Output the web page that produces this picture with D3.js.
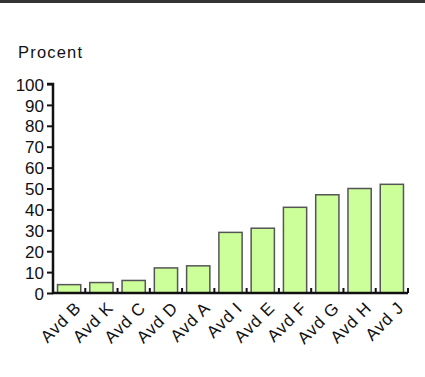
<!DOCTYPE html>
<html>
<head>
<meta charset="utf-8">
<script src="https://cdn.jsdelivr.net/npm/d3@7"></script>
<style>
  body { margin: 0; background: #fff; }
  text { font-family: "Liberation Sans Narrow", "Arial Narrow", "Liberation Sans", sans-serif; fill: #111; }
</style>
</head>
<body>
<div id="chart"></div>
<script>
var categories = ['Avd B', 'Avd K', 'Avd C', 'Avd D', 'Avd A', 'Avd I', 'Avd E', 'Avd F', 'Avd G', 'Avd H', 'Avd J'];
var values = [4, 5, 6, 12, 13, 29, 31, 41, 47, 50, 52];
var yTicks = [0, 10, 20, 30, 40, 50, 60, 70, 80, 90, 100];
var yTitle = 'Procent';

var W = 425, H = 377;
var margin = {top: 84, right: 17, bottom: 84, left: 53},
    width = W - margin.left - margin.right,
    height = H - margin.top - margin.bottom;

var root = d3.select("#chart").append("svg")
    .attr("width", W)
    .attr("height", H);

// dark strip along the top edge
root.append("rect")
    .attr("x", 0).attr("y", 0)
    .attr("width", W).attr("height", 3)
    .attr("fill", "#333");

root.append("text")
    .attr("x", 18).attr("y", 58)
    .style("font-size", "16.5px")
    .style("letter-spacing", "1.2px")
    .text(yTitle);

var svg = root.append("g")
    .attr("transform", "translate(" + margin.left + "," + margin.top + ")");

var x = d3.scaleBand()
    .domain(categories)
    .range([0, width])
    .paddingInner(0.28)
    .paddingOuter(0.14);

var y = d3.scaleLinear()
    .domain([0, 100])
    .range([height, 0]);

// bars
svg.selectAll("rect.bar")
    .data(values)
    .enter()
    .append("rect")
    .attr("class", "bar")
    .attr("x", function(d, i) { return x(categories[i]); })
    .attr("y", function(d) { return y(d); })
    .attr("width", x.bandwidth())
    .attr("height", function(d) { return height - y(d); })
    .attr("fill", "#ccff99")
    .attr("stroke", "#555")
    .attr("stroke-width", 1.5);

// y axis
var yAxis = svg.append("g")
    .call(d3.axisLeft(y).tickValues(yTicks).tickSize(6).tickPadding(3));
yAxis.select(".domain").attr("stroke", "#111").attr("stroke-width", 2.5)
    .attr("d", "M0," + (height + 1) + "V0H-6");
yAxis.selectAll(".tick line").attr("stroke", "#111").attr("stroke-width", 2);
yAxis.selectAll(".tick text").style("font-size", "17px").attr("fill", "#111").attr("dy", "0.36em");

// x axis: line with small upward ticks on band edges
var xAxis = svg.append("g")
    .attr("transform", "translate(0," + height + ")");
xAxis.append("line")
    .attr("x1", -1).attr("x2", width)
    .attr("y1", 0).attr("y2", 0)
    .attr("stroke", "#111").attr("stroke-width", 2.5);
var step = x.step();
xAxis.selectAll("line.tk")
    .data(categories)
    .enter()
    .append("line")
    .attr("class", "tk")
    .attr("x1", function(d) { return x(d) + x.bandwidth() + x.paddingInner() * step / 2; })
    .attr("x2", function(d) { return x(d) + x.bandwidth() + x.paddingInner() * step / 2; })
    .attr("y1", 0).attr("y2", -5)
    .attr("stroke", "#111").attr("stroke-width", 2);

xAxis.selectAll("text.lbl")
    .data(categories)
    .enter()
    .append("text")
    .attr("class", "lbl")
    .attr("text-anchor", "end")
    .style("font-size", "17px")
    .style("letter-spacing", "0.8px")
    .attr("transform", function(d) {
        return "translate(" + (x(d) + x.bandwidth() / 2 + 13) + ",16) rotate(-45)";
    })
    .text(function(d) { return d; });
</script>
</body>
</html>
